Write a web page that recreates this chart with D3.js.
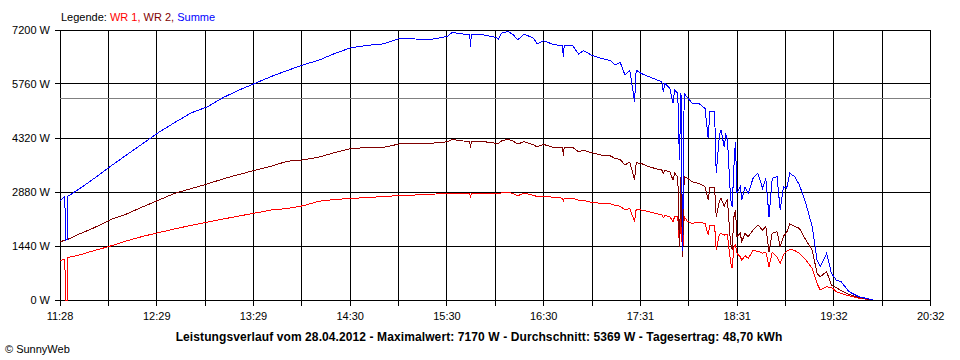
<!DOCTYPE html>
<html>
<head>
<meta charset="utf-8">
<script src="https://cdn.jsdelivr.net/npm/d3@7/dist/d3.min.js"></script>
<style>
  html, body { margin: 0; padding: 0; background: #fff; }
  svg { display: block; }
  text { font-family: "Liberation Sans", Arial, sans-serif; font-size: 11px; }
</style>
</head>
<body>
<svg id="chart" width="960" height="360"></svg>
<script>
// ---- data ----
const times = ["11:28:00","11:30:00","11:31:00","11:31:30","11:32:30","11:33:00","11:36:00","11:40:00","11:48:00","12:00:00",
"12:10:00","12:20:00","12:30:00","12:40:00","12:50:00","13:00:00","13:10:00","13:20:00","13:30:00","13:40:00",
"13:50:00","14:00:00","14:10:00","14:20:00","14:30:00","14:40:00","14:50:00","15:00:00","15:10:00","15:20:00",
"15:30:00","15:33:00","15:40:00","15:44:00","15:44:30","15:45:00","15:50:00","16:00:00","16:02:00","16:04:00",
"16:08:00","16:11:00","16:14:00","16:18:00","16:24:00","16:26:00","16:30:00","16:36:00","16:42:00","16:42:30",
"16:43:00","16:48:00","16:52:00","16:55:00","17:00:00","17:06:00","17:12:00","17:15:00","17:18:00","17:21:00",
"17:24:00","17:27:00","17:28:00","17:31:00","17:36:00","17:42:00","17:44:00","17:45:00","17:46:00","17:49:00",
"17:51:00","17:52:00","17:54:00","17:55:00","17:56:00","17:57:00","17:58:00","18:00:00","18:03:00","18:07:00",
"18:11:00","18:13:00","18:14:00","18:17:00","18:18:00","18:20:00","18:21:00","18:23:00","18:24:00","18:25:00",
"18:27:00","18:28:00","18:29:00","18:30:00","18:31:00","18:33:00","18:34:00","18:36:00","18:38:00","18:41:00",
"18:44:00","18:47:00","18:49:00","18:51:00","18:53:00","18:56:00","18:58:00","19:00:00","19:02:00","19:04:00",
"19:07:00","19:10:00","19:14:00","19:18:00","19:21:00","19:23:00","19:27:00","19:30:00","19:33:00","19:36:00",
"19:41:00","19:47:00","19:54:00","19:56:00"];

const summe = [2640,2720,2750,1600,1610,2770,2850,2960,3200,3580,
3880,4180,4480,4740,4990,5150,5400,5600,5780,5960,
6120,6270,6400,6580,6730,6790,6830,6975,6960,6950,
7030,7135,7090,7080,6755,7080,7090,7005,6960,7120,
7160,7080,6940,7090,6980,6830,6915,6820,6775,6470,
6775,6800,6560,6650,6533,6445,6380,6267,6340,6000,
6133,5290,6133,6044,5955,5850,5822,5550,5780,5645,
5250,5600,5510,3733,5511,1300,5511,5400,5244,5244,
5111,4311,5022,5022,3378,4400,4533,4088,4400,4300,
2700,2488,3500,4222,2844,3022,2667,3022,2844,3244,
3378,2978,3244,2222,3244,3289,2400,3022,2978,3378,
3289,3067,2578,1955,1067,889,1244,711,533,489,
222,89,20,0];

const wr2 = [1550,1580,1590,1595,1610,1620,1680,1760,1900,2150,
2300,2490,2670,2850,2970,3095,3230,3350,3460,3570,
3700,3735,3815,3935,4045,4060,4070,4160,4175,4180,
4220,4280,4240,4235,4050,4235,4240,4180,4170,4250,
4285,4240,4160,4220,4140,4080,4150,4075,4060,3850,
4060,4080,3955,3990,3930,3867,3840,3770,3750,3600,
3680,3200,3660,3644,3556,3480,3467,3380,3450,3420,
3200,3380,3290,1422,3289,1155,3289,3250,3150,3111,
3022,2667,3000,3000,2222,2650,2711,2500,2600,2667,
1500,1333,2200,2400,1689,1778,1555,1778,1689,1867,
2000,1867,1950,1289,1778,1820,1422,1700,1800,2027,
1960,1911,1600,1333,711,622,755,400,330,250,
150,70,10,0];

const wr1 = [1050,1080,1090,0,0,1140,1160,1200,1300,1445,
1580,1700,1800,1900,1990,2075,2160,2240,2320,2400,
2440,2515,2635,2680,2710,2730,2760,2785,2800,2820,
2845,2850,2850,2850,2720,2845,2845,2845,2830,2860,
2865,2845,2780,2855,2790,2760,2770,2740,2715,2620,
2715,2720,2665,2660,2605,2578,2560,2520,2500,2400,
2440,2088,2420,2400,2355,2290,2267,2200,2250,2230,
2088,2220,2222,1467,2222,1155,2222,2100,2044,2080,
2044,1733,2000,2000,1333,1750,1778,1730,1760,1733,
1000,844,1400,1467,1244,1150,1067,1180,1111,1320,
1300,1250,1280,889,1280,1150,978,1200,1300,1351,
1320,1250,1067,844,444,267,350,340,222,180,
110,50,10,0];

const yTickValues = [0, 1440, 2880, 4320, 5760, 7200];
const yTickLabels = ["0 W", "1440 W", "2880 W", "4320 W", "5760 W", "7200 W"];
const xStart = "11:28:00", xEnd = "20:32:00";
const xTickLabels = ["11:28","12:29","13:29","14:30","15:30","16:30","17:31","18:31","19:32","20:32"];
const average = 5369;
const legendItems = [["WR 1, ", "#ff0000"], ["WR 2, ", "#800000"], ["Summe", "#0000ff"]];
const titleText = "Leistungsverlauf vom 28.04.2012 - Maximalwert: 7170 W - Durchschnitt: 5369 W - Tagesertrag: 48,70 kWh";

(function () {
const toMin = s => { const p = s.split(":").map(Number); return p[0]*60 + p[1] + (p[2]||0)/60; };

const svg = d3.select("#chart");
const mLeft = 60, mRight = 930.67, mTop = 30, mBottom = 300;

const x = d3.scaleLinear().domain([toMin(xStart), toMin(xEnd)]).range([mLeft, mRight]);
const y = d3.scaleLinear().domain([0, 7200]).range([mBottom, mTop]);
const px = v => Math.floor(v) + 0.5;

const nDiv = 18;
const xTicks = d3.range(nDiv + 1).map(k => toMin(xStart) + k * (toMin(xEnd) - toMin(xStart)) / nDiv);

const grid = svg.append("g").attr("shape-rendering", "crispEdges");
yTickValues.forEach(v => {
  grid.append("line").attr("x1", mLeft - 5).attr("x2", px(mRight) + 0.5).attr("y1", px(y(v))).attr("y2", px(y(v)))
    .attr("stroke", "#000").attr("stroke-width", 1);
});
xTicks.forEach(t => {
  grid.append("line").attr("x1", px(x(t))).attr("x2", px(x(t))).attr("y1", mTop).attr("y2", mBottom + 6)
    .attr("stroke", "#000").attr("stroke-width", 1);
});
grid.append("line").attr("x1", mLeft).attr("x2", px(mRight)).attr("y1", px(y(average))).attr("y2", px(y(average)))
  .attr("stroke", "#808080").attr("stroke-width", 1);

svg.append("g").selectAll("text").data(yTickValues).join("text")
  .attr("x", 50).attr("y", d => y(d) + 4).attr("text-anchor", "end").attr("fill", "#000")
  .text((d, i) => yTickLabels[i]);

svg.append("g").selectAll("text").data(xTickLabels).join("text")
  .attr("x", (d, i) => x(xTicks[i * 2])).attr("y", 320).attr("text-anchor", "middle").attr("fill", "#000")
  .text(d => d);

const tm = times.map(toMin);
const line = d3.line().x((d, i) => x(tm[i])).y(d => y(d));
const series = [[wr1, "#ff0000"], [wr2, "#800000"], [summe, "#0000ff"]];
series.forEach(([vals, col]) => {
  svg.append("path").datum(vals).attr("d", line).attr("fill", "none")
    .attr("stroke", col).attr("stroke-width", 1).attr("shape-rendering", "crispEdges");
});

const leg = svg.append("text").attr("x", 61).attr("y", 21);
leg.append("tspan").attr("fill", "#000").text("Legende: ");
legendItems.forEach(([t, c]) => leg.append("tspan").attr("fill", c).text(t));

svg.append("text").attr("x", 479).attr("y", 341).attr("text-anchor", "middle")
  .attr("font-weight", "bold").style("font-size", "12px").style("letter-spacing", "0.1px")
  .attr("fill", "#000").text(titleText);

svg.append("text").attr("x", 5).attr("y", 353).attr("fill", "#000").text("\u00A9 SunnyWeb");
})();
</script>
</body>
</html>
